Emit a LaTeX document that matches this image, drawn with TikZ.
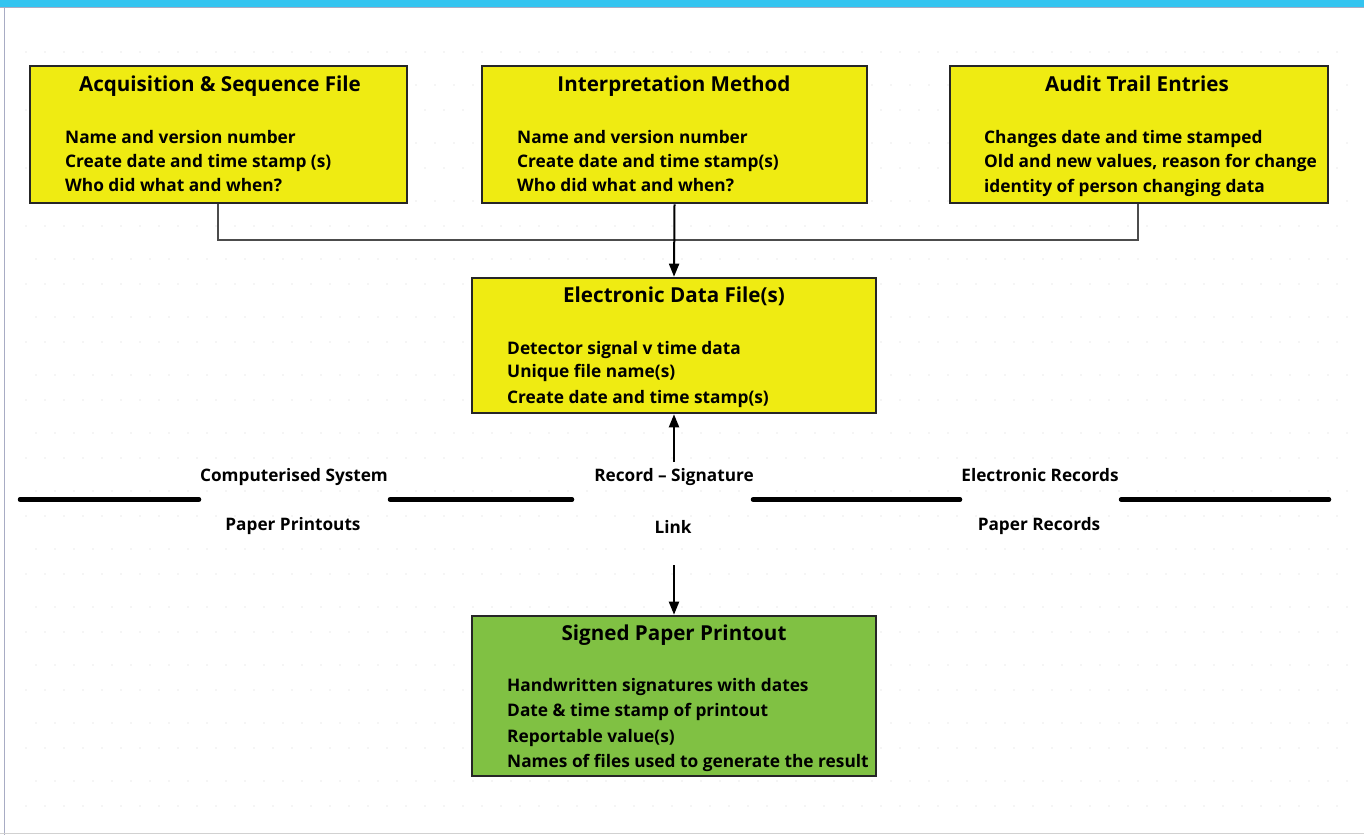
\documentclass[tikz,border=0pt]{standalone}
\usepackage{fontspec}
\setmainfont{Open Sans}
\usetikzlibrary{arrows.meta}
\definecolor{boxyellow}{HTML}{EFEB12}
\definecolor{boxgreen}{HTML}{80C143}
\definecolor{barblue}{HTML}{33C4F0}
\definecolor{framegray}{HTML}{A8ACC4}
\begin{document}
\begin{tikzpicture}[x=1pt,y=-1pt,
  infobox/.style={draw=black!85,line width=2.6pt,fill=boxyellow},
  greenbox/.style={draw=black!85,line width=2.6pt,fill=boxgreen},
  boxtitle/.style={font=\fontsize{20.6}{24}\selectfont\bfseries,anchor=base,inner sep=0pt},
  boxline/.style={font=\fontsize{17.3}{20}\selectfont\bfseries,anchor=base west,inner sep=0pt},
  sidelabel/.style={font=\fontsize{17.2}{20}\selectfont\bfseries,anchor=base,inner sep=0pt},
  divider/.style={line width=4.5pt,line cap=round,black},
  joiner/.style={line width=1.8pt,black!70},
  flow/.style={line width=2pt,black,-{Triangle[length=13pt,width=10pt]}}]
\useasboundingbox (0,0) rectangle (1364,835);
% page frame
\fill[white] (0,0) rectangle (1364,835);
\fill[barblue] (0,0) rectangle (1364,7);
\draw[framegray,line width=1.2pt] (0,7.6) -- (1364,7.6);
\draw[framegray,line width=1.2pt] (4.5,7) -- (4.5,835);
\draw[black!18,line width=1.2pt] (0,833.5) -- (1364,833.5);
% faint dotted background
\foreach \r in {0,...,13}{
  \draw[black!4,line width=1.6pt,dash pattern=on 2pt off 17pt]
    (25,{52+\r*58}) -- (1350,{52+\r*58});
  \draw[black!4,line width=1.6pt,dash pattern=on 2pt off 17pt]
    (35,{85+\r*58}) -- (1350,{85+\r*58});
}
% boxes
\node[infobox,minimum width=377pt,minimum height=137pt,inner sep=0pt] (acq) at (218.5,134.5) {};
\node[infobox,minimum width=385pt,minimum height=137pt,inner sep=0pt] (interp) at (674.5,134.5) {};
\node[infobox,minimum width=378pt,minimum height=137pt,inner sep=0pt] (audit) at (1139,134.5) {};
\node[infobox,minimum width=404pt,minimum height=135pt,inner sep=0pt] (edata) at (674,345.5) {};
\node[greenbox,minimum width=404pt,minimum height=160pt,inner sep=0pt] (signed) at (674,696) {};
% box texts
\node[boxtitle] (acqT) at (220,91) {Acquisition \& Sequence File};
\node[boxline] (acq1) at (65,143) {Name and version number};
\node[boxline] (acq2) at (65,167) {Create date and time stamp (s)};
\node[boxline] (acq3) at (65,191) {Who did what and when?};
\node[boxtitle] (interpT) at (674,91) {Interpretation Method};
\node[boxline] (interp1) at (517,143) {Name and version number};
\node[boxline] (interp2) at (517,167) {Create date and time stamp(s)};
\node[boxline] (interp3) at (517,191) {Who did what and when?};
\node[boxtitle] (auditT) at (1137,91) {Audit Trail Entries};
\node[boxline] (audit1) at (984,143) {Changes date and time stamped};
\node[boxline] (audit2) at (984,167) {Old and new values, reason for change};
\node[boxline] (audit3) at (984,192) {identity of person changing data};
\node[boxtitle] (edataT) at (674,302) {Electronic Data File(s)};
\node[boxline] (edata1) at (507,354) {Detector signal v time data};
\node[boxline] (edata2) at (507,377) {Unique file name(s)};
\node[boxline] (edata3) at (507,403) {Create date and time stamp(s)};
\node[boxtitle] (signedT) at (674,640) {Signed Paper Printout};
\node[boxline] (signed1) at (507,691) {Handwritten signatures with dates};
\node[boxline] (signed2) at (507,716) {Date \& time stamp of printout};
\node[boxline] (signed3) at (507,742) {Reportable value(s)};
\node[boxline] (signed4) at (507,767) {Names of files used to generate the result};
% joining lines into the data file
\coordinate (j1) at (218,240);
\coordinate (j3) at (1138,240);
\draw[joiner] (acq.south -| j1) -- (j1) -- (j3) -- (audit.south -| j3);
\draw[flow] (interp.south) -- (edata.north);
% divider between electronic and paper worlds
\node[sidelabel] (comp) at (294,481) {Computerised System};
\node[sidelabel] (paperp) at (293,530) {Paper Printouts};
\node[sidelabel] (recsig) at (674,481) {Record -- Signature};
\node[sidelabel] (link) at (673,533) {Link};
\node[sidelabel] (erec) at (1040,481) {Electronic Records};
\node[sidelabel] (prec) at (1039,530) {Paper Records};
\draw[divider] (20,499.5) -- (199,499.5);
\draw[divider] (390,499.5) -- (572,499.5);
\draw[divider] (753,499.5) -- (960,499.5);
\draw[divider] (1121,499.5) -- (1329,499.5);
% record-signature link arrows
\coordinate (up0) at (674,462);
\coordinate (dn0) at (674,565);
\draw[flow] (up0) -- (edata.south);
\draw[flow] (dn0) -- (signed.north);
\end{tikzpicture}
\end{document}
